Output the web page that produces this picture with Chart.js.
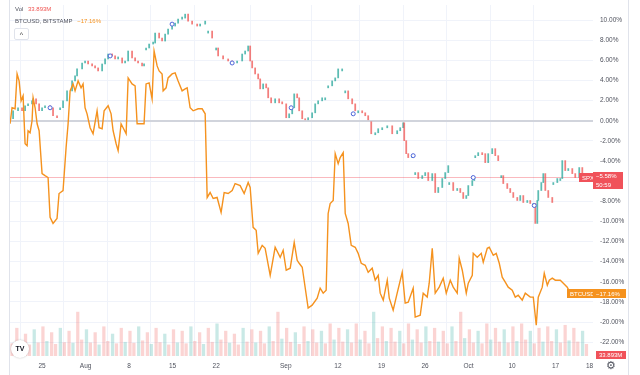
<!DOCTYPE html>
<html>
<head>
<meta charset="utf-8">
<script src="https://cdn.jsdelivr.net/npm/chart.js@4.4.0/dist/chart.umd.min.js"></script>
<style>
  html, body { margin: 0; padding: 0; background: #fff; }
  #wrap { position: relative; width: 640px; height: 375px; overflow: hidden; font-family: "Liberation Sans", Arial, sans-serif; }
  #myChart { position: absolute; left: 0; top: 0; }
  .lg { position: absolute; left: 15px; font-size: 6px; color: #50535e; white-space: nowrap; }
  .btn { position: absolute; left: 14px; top: 28px; width: 13px; height: 10px; border: 1px solid #e0e3eb; border-radius: 2px; background: #fff; font-size: 7px; line-height: 12px; text-align: center; color: #333; }
  .logo { position: absolute; left: 11px; top: 340px; width: 18px; height: 18px; border-radius: 9px; background: #fff; box-shadow: 0 0 2px rgba(0,0,0,0.25); font: bold 7px "Liberation Sans", Arial, sans-serif; line-height: 18px; text-align: center; color: #131722; }
  .gear { position: absolute; left: 606px; top: 359px; font-size: 11px; color: #50535e; }
</style>
</head>
<body>
<div id="wrap">
  <canvas id="myChart" width="640" height="375"></canvas>
  <div class="lg" style="top:6px">Vol <span style="color:#ef5350;margin-left:3px">33.893M</span></div>
  <div class="lg" style="top:18px">BTCUSD, BITSTAMP <span style="color:#f5921e;margin-left:3px">−17.16%</span></div>
  <div class="btn">^</div>
  <div class="logo">TV</div>
  <div class="gear">⚙</div>
</div>
<script>
// x values are trading days counted from Jul 25 (label "25")
const xTickPos = [0, 5, 10, 15, 20, 28, 34, 39, 44, 49, 54, 59, 62.9];
const xTickLbl = ['25', 'Aug', '8', '15', '22', 'Sep', '12', '19', '26', 'Oct', '10', '17', '18'];
const yTicks = [-22, -20, -18, -16, -14, -12, -10, -8, -6, -4, -2, 0, 2, 4, 6, 8, 10];

// BTCUSD, % change
const btcT = [-3.68,-3.45,-3.10,-2.87,-2.64,-2.41,-2.18,-1.95,-1.72,-1.61,-1.38,-1.15,-1.03,-0.80,-0.57,-0.34,0,0.34,0.69,0.92,
  1.26,1.72,1.95,2.41,2.76,2.99,3.22,3.56,3.79,4.14,4.48,4.71,4.94,5.17,5.52,5.86,6.32,6.55,6.90,7.13,
  7.59,7.93,8.16,8.51,8.74,9.08,9.31,9.66,9.89,10.34,10.69,10.92,11.26,11.72,11.95,12.30,12.64,12.87,13.22,13.45,
  13.79,13.91,14.25,14.48,14.94,15.29,15.63,16.09,16.44,16.67,17.01,17.36,17.93,18.39,18.74,18.97,19.31,19.66,20.11,20.57,
  20.92,21.38,21.84,22.18,22.76,23.22,23.68,23.91,24.25,24.60,24.83,25.29,25.63,26.21,26.78,27.36,27.70,28.05,28.51,28.97,
  29.31,29.54,29.89,30.57,31.03,31.61,31.95,32.30,32.64,32.87,33.10,33.45,33.68,34.02,34.25,34.60,34.83,35.17,35.52,35.98,
  36.32,36.67,37.13,37.47,37.93,38.28,38.62,38.85,39.20,39.66,39.89,40.34,40.80,41.38,41.72,42.07,42.64,42.87,43.45,43.79,
  44.25,44.48,44.83,45.17,45.63,46.09,46.44,46.90,47.24,47.70,47.93,48.28,48.74,48.97,49.43,49.54,50.00,50.46,50.69,51.15,
  51.38,51.84,52.18,52.53,52.87,53.22,53.56,54.02,54.37,54.71,55.17,55.52,56.09,56.44,56.78,57.01,57.47,57.70,58.05,58.28,
  58.62,58.97,59.54,59.89,60.34,60.69,61.38,62.07];
const btcPct = [-0.30,1.29,1.19,4.65,3.96,1.98,2.48,-2.28,-2.48,-0.99,-1.19,0,2.28,1.29,-0.30,-0.99,-5.25,-5.45,-5.64,-9.60,
  -10.20,-9.70,-7.23,-6.93,-2.67,-0.30,2.97,3.66,2.97,3.96,3.27,3.66,1.29,0.69,-0.69,-1.29,0.99,-0.69,-0.79,0.99,
  1.49,0.69,-0.99,-2.28,-2.97,-0.30,-0.69,-1.29,4.26,3.66,3.47,-0.30,-0.30,-0.30,3.66,3.76,2.18,6.93,5.45,4.95,
  4.65,2.97,3.27,4.26,4.65,4.75,3.96,2.97,3.17,3.27,1.29,0.99,1.19,1.19,0.69,-7.62,-7.13,-7.72,-7.62,-9.11,
  -7.13,-7.23,-6.93,-6.24,-6.44,-7.23,-6.14,-6.63,-10.59,-10.89,-13.17,-12.38,-12.67,-15.35,-12.57,-13.56,-12.87,-14.85,-14.65,-12.08,
  -13.86,-14.16,-14.55,-18.61,-18.32,-17.62,-16.63,-17.13,-16.83,-9.21,-8.22,-7.92,-3.27,-4.26,-3.66,-3.17,-9.21,-10.20,-12.38,-12.57,
  -13.17,-14.16,-14.36,-15.05,-14.65,-15.84,-15.35,-17.13,-17.82,-15.84,-17.62,-18.81,-17.13,-15.05,-18.12,-18.02,-16.63,-19.50,-19.31,-17.13,
  -17.52,-16.14,-12.67,-17.13,-16.53,-15.64,-17.13,-15.84,-16.53,-17.13,-13.66,-14.85,-17.13,-16.14,-15.35,-13.17,-13.56,-13.17,-14.06,-12.67,
  -12.57,-13.37,-13.17,-14.16,-15.54,-16.04,-16.53,-16.83,-17.52,-17.33,-17.82,-17.13,-17.52,-17.52,-20.30,-17.52,-16.53,-15.15,-16.34,-15.84,
  -15.64,-15.84,-15.84,-16.14,-16.53,-17.13,-17.23,-17.16];
const btcLast = -17.16;

// SPX closes, % change (null = session gap)
const spxT = [-3.68,-3.33,-2.76,-2.30,-1.95,-1.61,-1.15,-1.03,-0.69,-0.34,0,0.34,0.92,1.26,1.72, null,
  2.07,2.41,2.87,3.45,3.79,4.02,4.60,4.94,5.29,5.75,6.09,6.44,6.90,7.24,7.59,8.05,8.39,8.74,9.20,9.54,9.89,10.34,10.69,11.03,11.49,11.72, null,
  11.95,12.30,12.76,12.99,13.45,13.79,14.14,14.48,14.94,15.29,15.63,16.09,16.44,16.78,17.24,17.82,18.16,18.74, null,
  19.08,19.54, null,
  20.00,20.23,20.80,21.38,21.84,22.41,22.99,23.33,23.68,23.91,24.14,24.48,24.83,25.06,25.40,25.75,25.98,26.32,26.78,27.24,27.59,
  28.05,28.39,28.74,28.97,29.31,29.54,29.89,30.23,30.57,31.03,31.38,31.72,32.18,32.53, null,
  32.87,33.33,33.68,34.02,34.48, null,
  34.83,35.17,35.63,35.98,36.32,36.78,37.13,37.47,37.82,38.28,38.62,39.08,39.66,40.23,40.80,41.15,41.49,41.61,41.84,42.07,42.53, null,
  42.87,43.22,43.68,44.02,44.37,44.83,45.17,45.52,45.98,46.32,46.67, null,
  46.78,47.24,47.70,48.05,48.39,48.74,48.97,49.43,49.66, null,
  49.77,50.11,50.57,50.92,51.26,51.72,52.07,52.41, null,
  52.76,52.99,53.45,53.79,54.14,54.60,54.94,55.29,55.75,56.09,56.44,56.67,56.90,57.01,57.36,57.59,57.82,58.16,58.62, null,
  58.74,59.20,59.54,59.77,60.11,60.46,60.92,61.26,61.72,62.07];
const spxPct = [0.20,0.99,1.29,0.99,1.49,1.68,1.98,2.18,1.68,0.99,1.29,1.49,1.29,0.50,0.30, null,
  1.29,1.98,2.97,3.96,4.46,5.15,5.74,5.94,5.64,5.45,5.25,4.95,5.64,6.14,6.63,6.44,6.14,6.24,5.74,5.94,6.93,6.24,5.94,5.74,5.45,5.64, null,
  7.23,7.62,7.72,8.71,8.22,7.92,8.61,9.11,9.41,9.70,10.10,10.20,10.59,9.90,9.60,9.41,9.60,9.90, null,
  8.91,8.22, null,
  7.23,6.44,6.14,5.94,5.74,5.94,6.63,6.93,7.43,5.94,5.25,4.65,4.16,3.17,3.66,3.27,2.28,1.78,2.18,1.78,1.68,
  0.30,0.69,1.29,2.67,2.28,0.99,0.20,0,0.30,0.79,1.68,1.98,2.28,2.28, null,
  3.47,3.96,4.26,5.15,5.15, null,
  2.97,2.18,1.68,0.99,0.99,0.79,0.50,0,-1.29,-1.19,-0.79,-0.69,-0.50,-1.29,-0.99,-0.69,-0.20,-1.98,-3.27,-3.66,-3.47, null,
  -5.15,-5.74,-5.45,-5.15,-5.94,-5.25,-7.13,-6.63,-5.74,-5.15,-4.46, null,
  -6.14,-6.93,-6.73,-7.13,-7.72,-7.43,-6.44,-5.94,-5.64, null,
  -3.47,-3.17,-3.27,-4.16,-3.27,-2.77,-3.47,-3.96, null,
  -5.45,-6.24,-6.73,-7.13,-7.62,-7.92,-7.43,-8.12,-7.92,-8.22,-8.22,-10.20,-7.92,-6.93,-6.14,-5.25,-6.93,-7.62,-8.12, null,
  -6.14,-5.74,-5.74,-3.96,-4.95,-4.75,-5.25,-5.64,-4.65,-5.58];
const spxLast = -5.58;

// chart event markers on SPX
const markT = [0.92, 7.82, 14.94, 21.84, 28.62, 35.75, 42.64, 49.54, 56.55];
const markPct = [1.29, 6.44, 9.60, 5.74, 1.29, 0.69, -3.47, -5.64, -8.42];

// volume per trading day (opening spike, rest of session), first day = -4
const volFirstDay = -4;
const volOpen = [85, 95, 75, 90,
  100, 80, 95, 85, 150, 90, 80, 100, 75, 95, 85, 100, 80, 95, 75, 90, 85, 100, 80, 95,
  110, 85, 75, 95, 90, 85, 100, 150, 95, 80, 100, 90, 85, 110, 95, 90, 110, 85, 150, 100,
  95, 85, 110, 90, 100, 95, 85, 100, 150, 90, 85, 110, 95, 90, 100, 110, 85, 95, 100, 90,
  105, 95, 85];
const volRest = [42, 48, 38, 45,
  50, 40, 46, 44, 55, 45, 38, 50, 42, 47, 44, 52, 40, 46, 38, 45, 42, 50, 40, 47,
  55, 44, 38, 48, 45, 42, 50, 58, 47, 40, 50, 45, 42, 55, 48, 45, 55, 42, 60, 50,
  48, 42, 55, 45, 50, 48, 42, 50, 60, 45, 42, 55, 48, 45, 50, 55, 42, 48, 50, 45,
  52, 48, 40];

const UP = 'rgba(38,166,154,0.75)', DOWN = 'rgba(239,83,80,0.75)';
const ORANGE = '#f5921e', RED = '#f0525a';
const FONT = '"Liberation Sans", Arial, sans-serif';

const btcData = btcT.map((t, i) => ({ x: t, y: btcPct[i] }));

const spxData = [];
let prev = null;
spxT.forEach((t, i) => {
  const c = spxPct[i];
  if (c === null) { prev = null; return; }
  spxData.push({ x: t, y: [prev === null ? c : prev, c] });
  prev = c;
});

const volData = [];
volOpen.forEach((v, i) => {
  volData.push({ x: volFirstDay + i + 0.1, y: v });
  volData.push({ x: volFirstDay + i + 0.55, y: volRest[i] });
});

const markData = markT.map((t, i) => ({ x: t, y: markPct[i] }));

function box(ctx, x, y, w, h, color, lines) {
  ctx.fillStyle = color;
  ctx.fillRect(x, y, w, h);
  ctx.fillStyle = '#fff';
  ctx.font = '6px ' + FONT;
  ctx.textAlign = 'left';
  ctx.textBaseline = 'middle';
  const lh = h / lines.length;
  lines.forEach((s, i) => ctx.fillText(s, x + 3, y + lh * i + lh / 2 + 0.5));
}

const decorations = {
  id: 'decorations',
  beforeDatasetsDraw(chart) {
    const { ctx, chartArea: a, scales: { y } } = chart;
    ctx.save();
    ctx.strokeStyle = 'rgba(242,54,69,0.35)';
    ctx.lineWidth = 1;
    const py = Math.round(y.getPixelForValue(spxLast)) + 0.5;
    ctx.beginPath(); ctx.moveTo(a.left, py); ctx.lineTo(a.right, py); ctx.stroke();
    ctx.restore();
  },
  afterDraw(chart) {
    const { ctx, chartArea: a, scales: { y } } = chart;
    ctx.save();
    ctx.strokeStyle = '#e0e3eb';
    ctx.lineWidth = 1;
    ctx.beginPath();
    ctx.moveTo(a.left + 0.5, 0); ctx.lineTo(a.left + 0.5, chart.height);
    ctx.moveTo(628.5, 0); ctx.lineTo(628.5, chart.height);
    ctx.stroke();

    const ps = Math.round(y.getPixelForValue(spxLast));
    box(ctx, a.right - 14, ps - 4, 14, 9, RED, ['SPX']);
    box(ctx, a.right, ps - 5, 30, 17, RED, ['−5.58%', '50:59']);

    const pb = Math.round(y.getPixelForValue(btcLast));
    box(ctx, a.right - 26, pb - 4, 26, 9, ORANGE, ['BTCUSD']);
    box(ctx, a.right, pb - 4, 33, 9, ORANGE, ['−17.16%']);

    box(ctx, a.right + 3, a.bottom - 5, 30, 8, RED, ['33.893M']);
    ctx.restore();
  }
};

const ctx = document.getElementById('myChart').getContext('2d');
const myChart = new Chart(ctx, {
  type: 'bar',
  data: {
    datasets: [
      {
        type: 'line', data: btcData, borderColor: ORANGE, borderWidth: 1.4,
        pointRadius: 0, tension: 0, order: 0
      },
      {
        type: 'scatter', data: markData, pointRadius: 2, pointBorderWidth: 1,
        pointBorderColor: '#4a62d8', pointBackgroundColor: '#fff', order: 1
      },
      {
        type: 'bar', data: spxData, grouped: false, barThickness: 1.1, minBarLength: 2,
        backgroundColor: c => (c.raw && c.raw.y[1] >= c.raw.y[0]) ? UP : DOWN, order: 2
      },
      {
        type: 'bar', data: volData, yAxisID: 'yv', grouped: false, barThickness: 2.6,
        backgroundColor: c => (c.dataIndex % 3 === 0) ? 'rgba(38,166,154,0.25)' : 'rgba(239,83,80,0.25)', order: 3
      }
    ]
  },
  options: {
    responsive: false,
    animation: false,
    layout: { padding: { left: 9, right: 12, top: 0, bottom: 0 } },
    plugins: { legend: { display: false }, tooltip: { enabled: false } },
    scales: {
      x: {
        type: 'linear', min: -3.8, max: 63.3, offset: false,
        afterBuildTicks: a => { a.ticks = xTickPos.map(v => ({ value: v })); },
        afterFit: a => { a.height = 19; a.paddingLeft = 0; a.paddingRight = 0; },
        grid: { color: c => (c.index === xTickPos.length - 1) ? 'rgba(0,0,0,0)' : '#f0f3fa', drawTicks: false },
        border: { display: false },
        ticks: {
          padding: 6, maxRotation: 0, autoSkip: false, color: '#50535e',
          font: { size: 6.5, family: FONT },
          callback: (v, i) => xTickLbl[i]
        }
      },
      y: {
        position: 'right', min: -23.37, max: 11.5,
        afterBuildTicks: a => { a.ticks = yTicks.map(v => ({ value: v })); },
        afterFit: a => { a.width = 35; a.paddingTop = 0; a.paddingBottom = 0; },
        grid: {
          color: c => (c.tick && c.tick.value === 0) ? '#d1d4dc' : '#f0f3fa',
          lineWidth: c => (c.tick && c.tick.value === 0) ? 2 : 1,
          drawTicks: false
        },
        border: { display: false },
        ticks: {
          padding: 7, color: '#50535e', font: { size: 6.5, family: FONT },
          callback: v => v.toFixed(2) + '%'
        }
      },
      yv: { display: false, min: 0, max: 1200 }
    }
  },
  plugins: [decorations]
});
</script>
</body>
</html>
